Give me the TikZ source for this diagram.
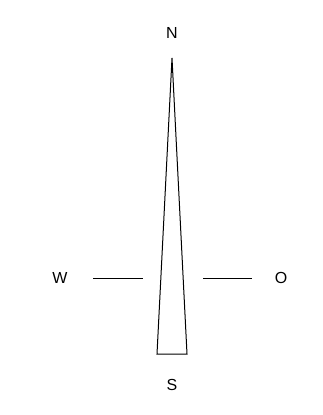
\documentclass[tikz,border=0pt]{standalone}
\usepackage{fontspec}
\setmainfont{Liberation Sans}
\usetikzlibrary{positioning,calc}

\begin{document}
\begin{tikzpicture}[
x=1pt, y=-1pt,
rumo/.style={font=\fontsize{16}{18}\selectfont, inner sep=0pt},
agulha/.style={draw, line width=1pt, line join=miter},
traco/.style={draw, line width=1pt}
]
\useasboundingbox (0,0) rectangle (322,415);
% letras
\node[rumo] (norte) at (172,32.5) {N};
\node[rumo] (sul) at (172,385) {S};
\node[rumo] (oeste) at (60,277.5) {W};
\node[rumo] (leste) at (281,277.5) {O};
% agulha
\coordinate (ponta) at (172,58);
\coordinate (baseE) at (157,354);
\coordinate (baseD) at (187,354);
\path[agulha] (ponta) -- (baseD) -- (baseE) -- cycle;
% tracos
\coordinate (wa) at (93,278);
\coordinate (wb) at (143,278);
\coordinate (oa) at (203,278);
\coordinate (ob) at (252,278);
\path[traco] (wa) -- (wb);
\path[traco] (oa) -- (ob);
\end{tikzpicture}
\end{document}
